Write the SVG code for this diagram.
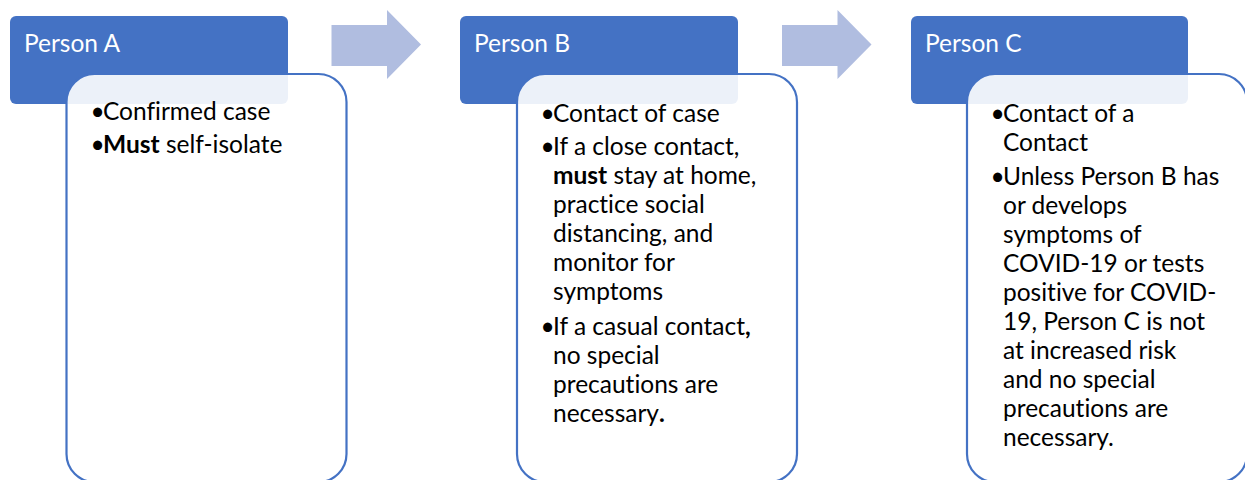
<svg xmlns="http://www.w3.org/2000/svg" width="1245" height="480" viewBox="0 0 1245 480">
<style>
.hdr{fill:#4472C4;}
.body{fill:#FFFFFF;fill-opacity:0.9;stroke:#4472C4;stroke-width:2.2;}
.arrow{fill:#B0BDE0;}
.ht{font-family:Lato,"Liberation Sans",sans-serif;font-size:24.5px;fill:#FFFFFF;font-variant-ligatures:none;}
.bt{font-family:Lato,"Liberation Sans",sans-serif;font-size:24.5px;fill:#000000;font-variant-ligatures:none;}
.b{font-weight:bold;}
</style>
<rect width="1245" height="480" fill="#FFFFFF"/>
<g id="connectors">
<polygon class="arrow" points="331.5,25 387,25 387,10 421,44.5 387,79 387,66 331.5,66"/>
<polygon class="arrow" points="782,25 837.5,25 837.5,10 871.5,44.5 837.5,79 837.5,66 782,66"/>
</g>
<g id="personA">
<rect class="hdr" x="10" y="16" width="278" height="88" rx="6"/>
<text class="ht" x="24" y="52">Person A</text>
<rect class="body" x="66.5" y="74" width="280" height="408" rx="28"/>
<text class="bt">
<tspan x="90.5" y="120">•</tspan><tspan x="103" y="120">Confirmed case</tspan>
<tspan x="90.5" y="153">•</tspan><tspan x="103" y="153"><tspan class="b">Must</tspan> self-isolate</tspan>
</text>
</g>
<g id="personB">
<rect class="hdr" x="460" y="16" width="278" height="88" rx="6"/>
<text class="ht" x="474" y="52">Person B</text>
<rect class="body" x="517" y="74" width="280" height="408" rx="28"/>
<text class="bt">
<tspan x="540.5" y="121.5">•</tspan><tspan x="553" y="121.5">Contact of case</tspan>
<tspan x="540.5" y="155">•</tspan><tspan x="553" y="155">If a close contact,</tspan>
<tspan x="553" y="184"><tspan class="b">must</tspan> stay at home,</tspan>
<tspan x="553" y="213">practice social</tspan>
<tspan x="553" y="242">distancing, and</tspan>
<tspan x="553" y="271">monitor for</tspan>
<tspan x="553" y="300">symptoms</tspan>
<tspan x="540.5" y="335">•</tspan><tspan x="553" y="335">If a casual contact<tspan class="b">,</tspan></tspan>
<tspan x="553" y="364">no special</tspan>
<tspan x="553" y="393">precautions are</tspan>
<tspan x="553" y="422">necessary<tspan class="b">.</tspan></tspan>
</text>
</g>
<g id="personC">
<rect class="hdr" x="911" y="16" width="277" height="88" rx="6"/>
<text class="ht" x="925" y="52">Person C</text>
<rect class="body" x="967" y="74" width="280" height="408" rx="28"/>
<text class="bt">
<tspan x="990.5" y="121.5">•</tspan><tspan x="1003" y="121.5">Contact of a</tspan>
<tspan x="1003" y="150.5">Contact</tspan>
<tspan x="990.5" y="184.5">•</tspan><tspan x="1003" y="184.5">Unless Person B has</tspan>
<tspan x="1003" y="213.5">or develops</tspan>
<tspan x="1003" y="242.5">symptoms of</tspan>
<tspan x="1003" y="271.5">COVID-19 or tests</tspan>
<tspan x="1003" y="300.5">positive for COVID-</tspan>
<tspan x="1003" y="329.5">19, Person C is not</tspan>
<tspan x="1003" y="358.5">at increased risk</tspan>
<tspan x="1003" y="387.5">and no special</tspan>
<tspan x="1003" y="416.5">precautions are</tspan>
<tspan x="1003" y="445.5">necessary.</tspan>
</text>
</g>
</svg>
